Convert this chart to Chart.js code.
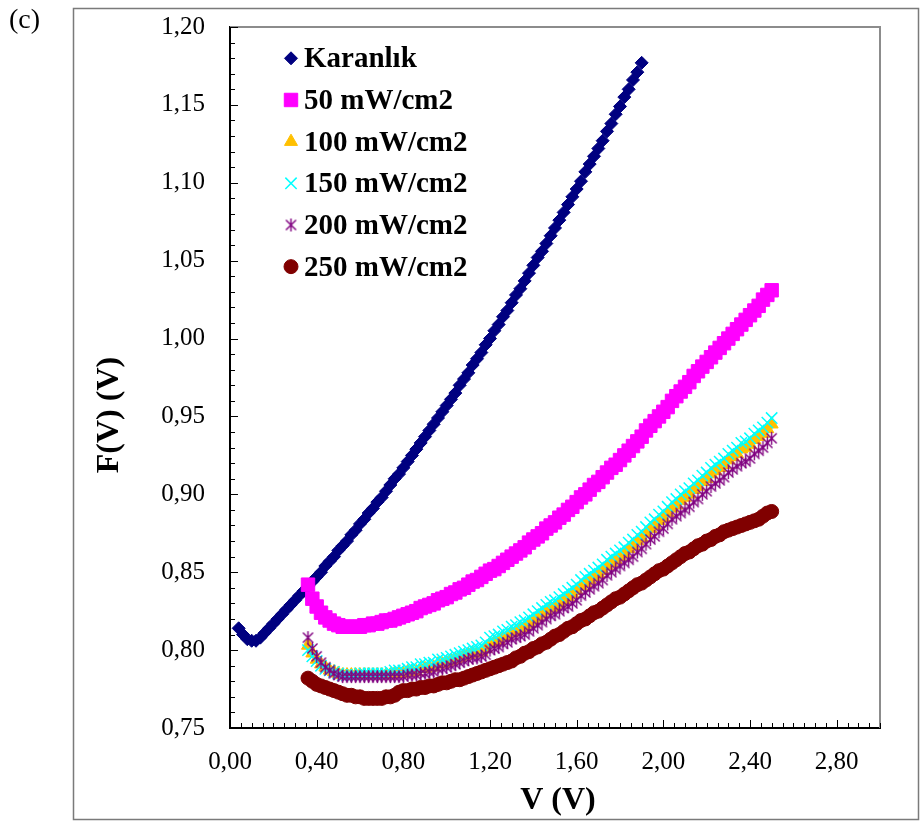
<!DOCTYPE html>
<html>
<head>
<meta charset="utf-8">
<script src="https://cdn.jsdelivr.net/npm/chart.js@4.4.1/dist/chart.umd.min.js"></script>
<style>
  html, body { margin: 0; padding: 0; background: #fff; }
  #wrap { position: relative; width: 921px; height: 823px; overflow: hidden; }
  #c { position: absolute; left: 0; top: 0; }
  #tag { position: absolute; left: 9px; top: 5px; font: 28px/28px "Liberation Serif", "Times New Roman", serif; color: #000; }
</style>
</head>
<body>
<div id="wrap">
  <canvas id="c" width="921" height="823"></canvas>
  <div id="tag">(c)</div>
</div>
<script>
// Bias voltage (V) for the dark measurement
const vDark = [0.04,0.06,0.08,0.10,0.12,0.14,0.16,0.18,0.20,0.22,0.24,0.26,0.28,0.30,0.32,0.34,0.36,
  0.38,0.40,0.42,0.44,0.46,0.48,0.50,0.52,0.54,0.56,0.58,0.60,0.62,0.64,0.66,0.68,0.70,0.72,0.74,0.76,0.78,0.80,
  0.82,0.84,0.86,0.88,0.90,0.92,0.94,0.96,0.98,1.00,1.02,1.04,1.06,1.08,1.10,1.12,1.14,1.16,1.18,1.20,
  1.22,1.24,1.26,1.28,1.30,1.32,1.34,1.36,1.38,1.40,1.42,1.44,1.46,1.48,1.50,1.52,1.54,1.56,1.58,1.60,
  1.62,1.64,1.66,1.68,1.70,1.72,1.74,1.76,1.78,1.80,1.82,1.84,1.86,1.88,1.90];

// F(V) in the dark
const fDark = [0.814,0.810,0.807,0.806,0.806,0.808,0.811,0.814,0.817,0.820,0.823,0.826,0.829,0.832,0.835,0.838,0.841,
  0.844,0.847,0.850,0.854,0.857,0.860,0.864,0.867,0.870,0.874,0.877,0.881,0.884,0.888,0.891,0.895,0.898,0.902,0.906,0.910,0.913,0.917,
  0.921,0.925,0.929,0.933,0.937,0.941,0.945,0.949,0.953,0.957,0.961,0.965,0.970,0.974,0.978,0.983,0.987,0.991,0.996,1.000,
  1.005,1.009,1.014,1.018,1.023,1.028,1.032,1.037,1.042,1.047,1.052,1.056,1.061,1.066,1.071,1.076,1.081,1.086,1.091,1.096,
  1.101,1.107,1.112,1.117,1.122,1.127,1.133,1.138,1.144,1.149,1.155,1.160,1.166,1.171,1.177];

// Bias voltage (V) for the illuminated measurements
const vLight = [0.36,0.38,0.40,0.42,0.44,0.46,0.48,0.50,0.52,0.54,
  0.56,0.58,0.60,0.62,0.64,0.66,0.68,0.70,0.72,0.74,
  0.76,0.78,0.80,0.82,0.84,0.86,0.88,0.90,0.92,0.94,
  0.96,0.98,1.00,1.02,1.04,1.06,1.08,1.10,1.12,1.14,
  1.16,1.18,1.20,1.22,1.24,1.26,1.28,1.30,1.32,1.34,
  1.36,1.38,1.40,1.42,1.44,1.46,1.48,1.50,1.52,1.54,
  1.56,1.58,1.60,1.62,1.64,1.66,1.68,1.70,1.72,1.74,
  1.76,1.78,1.80,1.82,1.84,1.86,1.88,1.90,1.92,1.94,
  1.96,1.98,2.00,2.02,2.04,2.06,2.08,2.10,2.12,2.14,
  2.16,2.18,2.20,2.22,2.24,2.26,2.28,2.30,2.32,2.34,
  2.36,2.38,2.40,2.42,2.44,2.46,2.48,2.50];

const f50 = [0.842,0.833,0.828,0.824,0.821,0.819,0.817,0.816,0.815,0.815,
  0.815,0.815,0.815,0.816,0.816,0.817,0.817,0.818,0.819,0.819,
  0.820,0.821,0.822,0.823,0.824,0.825,0.827,0.828,0.829,0.830,
  0.832,0.833,0.834,0.836,0.837,0.839,0.840,0.842,0.844,0.845,
  0.847,0.849,0.851,0.852,0.854,0.856,0.858,0.860,0.862,0.864,
  0.866,0.869,0.871,0.873,0.875,0.878,0.880,0.882,0.885,0.887,
  0.890,0.892,0.895,0.898,0.900,0.903,0.906,0.908,0.911,0.914,
  0.917,0.919,0.922,0.925,0.928,0.931,0.934,0.937,0.941,0.944,
  0.947,0.950,0.953,0.956,0.960,0.963,0.966,0.969,0.972,0.976,
  0.979,0.982,0.985,0.988,0.991,0.994,0.997,1.000,1.003,1.006,
  1.009,1.012,1.015,1.018,1.021,1.025,1.028,1.031];

const f100 = [0.803,0.798,0.794,0.791,0.789,0.787,0.786,0.785,0.784,0.784,
  0.784,0.784,0.784,0.784,0.784,0.784,0.784,0.784,0.784,0.784,
  0.785,0.785,0.785,0.786,0.786,0.786,0.788,0.788,0.789,0.789,
  0.791,0.791,0.792,0.793,0.794,0.795,0.796,0.797,0.798,0.798,
  0.799,0.801,0.804,0.805,0.806,0.808,0.809,0.811,0.812,0.814,
  0.815,0.817,0.819,0.821,0.823,0.825,0.827,0.828,0.830,0.832,
  0.834,0.836,0.838,0.841,0.843,0.845,0.847,0.849,0.851,0.854,
  0.856,0.858,0.860,0.862,0.865,0.867,0.870,0.872,0.875,0.878,
  0.880,0.883,0.885,0.888,0.891,0.893,0.896,0.898,0.900,0.903,
  0.905,0.908,0.910,0.913,0.915,0.917,0.919,0.922,0.924,0.926,
  0.929,0.930,0.932,0.935,0.937,0.939,0.942,0.945];

const f150 = [0.800,0.796,0.793,0.790,0.788,0.787,0.786,0.785,0.784,0.784,
  0.784,0.784,0.785,0.785,0.785,0.785,0.785,0.785,0.785,0.786,
  0.787,0.787,0.787,0.788,0.789,0.789,0.791,0.791,0.792,0.792,
  0.794,0.794,0.795,0.796,0.797,0.798,0.799,0.800,0.801,0.802,
  0.803,0.805,0.808,0.809,0.810,0.812,0.813,0.815,0.816,0.818,
  0.819,0.821,0.823,0.825,0.827,0.829,0.831,0.832,0.834,0.836,
  0.838,0.840,0.842,0.845,0.847,0.849,0.851,0.853,0.855,0.858,
  0.860,0.862,0.864,0.866,0.869,0.871,0.874,0.876,0.879,0.882,
  0.884,0.887,0.889,0.892,0.895,0.897,0.900,0.902,0.904,0.907,
  0.909,0.912,0.914,0.917,0.919,0.921,0.923,0.926,0.928,0.930,
  0.933,0.934,0.936,0.939,0.941,0.943,0.946,0.949];

const f200 = [0.808,0.801,0.796,0.792,0.789,0.787,0.785,0.784,0.783,0.783,
  0.783,0.783,0.783,0.783,0.783,0.783,0.783,0.783,0.783,0.783,
  0.783,0.783,0.783,0.784,0.784,0.784,0.785,0.785,0.786,0.786,
  0.788,0.788,0.789,0.790,0.791,0.792,0.793,0.794,0.795,0.795,
  0.796,0.797,0.800,0.801,0.802,0.804,0.805,0.807,0.808,0.809,
  0.810,0.812,0.814,0.816,0.818,0.820,0.822,0.823,0.825,0.827,
  0.828,0.830,0.832,0.835,0.837,0.839,0.841,0.843,0.845,0.848,
  0.850,0.852,0.854,0.856,0.858,0.860,0.863,0.865,0.868,0.871,
  0.873,0.876,0.878,0.881,0.884,0.886,0.888,0.890,0.892,0.895,
  0.897,0.900,0.902,0.905,0.907,0.909,0.911,0.914,0.916,0.918,
  0.920,0.921,0.923,0.926,0.928,0.930,0.933,0.936];

const f250 = [0.782,0.780,0.778,0.777,0.776,0.775,0.774,0.773,0.772,0.771,
  0.771,0.770,0.770,0.769,0.769,0.769,0.769,0.769,0.770,0.770,
  0.771,0.773,0.774,0.774,0.775,0.775,0.776,0.776,0.777,0.777,
  0.778,0.779,0.779,0.780,0.781,0.781,0.782,0.783,0.784,0.785,
  0.786,0.787,0.788,0.789,0.790,0.791,0.792,0.793,0.795,0.796,
  0.798,0.799,0.801,0.802,0.804,0.805,0.807,0.809,0.810,0.812,
  0.814,0.815,0.817,0.819,0.820,0.822,0.824,0.825,0.827,0.829,
  0.831,0.833,0.834,0.836,0.838,0.840,0.842,0.843,0.845,0.847,
  0.849,0.851,0.852,0.854,0.856,0.858,0.860,0.862,0.863,0.865,
  0.867,0.868,0.870,0.871,0.873,0.874,0.876,0.877,0.878,0.879,
  0.880,0.881,0.882,0.883,0.884,0.886,0.888,0.889];

const seriesNames = ['Karanlık', '50 mW/cm2', '100 mW/cm2', '150 mW/cm2', '200 mW/cm2', '250 mW/cm2'];
const xTicks = [0.00, 0.40, 0.80, 1.20, 1.60, 2.00, 2.40, 2.80];
const yTicks = [0.75, 0.80, 0.85, 0.90, 0.95, 1.00, 1.05, 1.10, 1.15, 1.20];
const xTitle = 'V (V)';
const yTitle = 'F(V) (V)';

const SERIF = '"Liberation Serif", "Times New Roman", serif';

// asterisk marker: an X crossed by a vertical bar
function asteriskMarker(color, size) {
  const c = document.createElement('canvas');
  c.width = size; c.height = size;
  const g = c.getContext('2d');
  g.strokeStyle = color;
  g.lineWidth = 1.4;
  const m = size / 2, r = size / 2 - 1, d = r * 0.78;
  g.beginPath();
  g.moveTo(m - d, m - d); g.lineTo(m + d, m + d);
  g.moveTo(m + d, m - d); g.lineTo(m - d, m + d);
  g.moveTo(m, m - r); g.lineTo(m, m + r);
  g.stroke();
  return c;
}

const pts = (xs, ys) => xs.map((x, i) => ({ x: x, y: ys[i] }));
const fmt = v => v.toFixed(2).replace('.', ',');

const datasets = [
  { label: seriesNames[0], data: pts(vDark, fDark), pointStyle: 'rectRot', pointRadius: 6.5,
    pointBackgroundColor: '#000080', pointBorderColor: '#000080', pointBorderWidth: 1, order: 5 },
  { label: seriesNames[1], data: pts(vLight, f50), pointStyle: 'rect', pointRadius: 9.5,
    pointBackgroundColor: '#FF00FF', pointBorderColor: '#FF00FF', pointBorderWidth: 1, order: 4 },
  { label: seriesNames[2], data: pts(vLight, f100), pointStyle: 'triangle', pointRadius: 7.5,
    pointBackgroundColor: '#FFC000', pointBorderColor: '#FFC000', pointBorderWidth: 1, order: 3 },
  { label: seriesNames[3], data: pts(vLight, f150), pointStyle: 'crossRot', pointRadius: 8,
    pointBackgroundColor: '#00FFFF', pointBorderColor: '#00FFFF', pointBorderWidth: 1.5, order: 2 },
  { label: seriesNames[4], data: pts(vLight, f200), pointStyle: asteriskMarker('#800080', 15), pointRadius: 7,
    pointBackgroundColor: '#800080', pointBorderColor: '#800080', pointBorderWidth: 1.4, order: 1 },
  { label: seriesNames[5], data: pts(vLight, f250), pointStyle: 'circle', pointRadius: 7,
    pointBackgroundColor: '#800000', pointBorderColor: '#800000', pointBorderWidth: 1, order: 0 }
];
datasets.forEach(d => { d.showLine = false; d.pointHoverRadius = d.pointRadius; });

// page frame, plot border, inward tick marks, axis titles and in-plot legend
const decor = {
  id: 'decor',
  beforeDraw(chart) {
    const ctx = chart.ctx;
    ctx.save();
    ctx.fillStyle = '#fff';
    ctx.fillRect(0, 0, chart.width, chart.height);
    ctx.strokeStyle = '#7a7a7a';
    ctx.lineWidth = 1.5;
    ctx.strokeRect(73.5, 8.5, 845, 811);
    ctx.restore();
  },
  afterDraw(chart) {
    const ctx = chart.ctx, a = chart.chartArea;
    const xs = chart.scales.x, ys = chart.scales.y;
    ctx.save();
    // top and right edges of the plot area
    ctx.strokeStyle = '#8c8c8c';
    ctx.lineWidth = 2;
    ctx.beginPath();
    ctx.moveTo(a.left, a.top); ctx.lineTo(a.right, a.top); ctx.lineTo(a.right, a.bottom);
    ctx.stroke();
    // tick marks pointing into the plot
    ctx.strokeStyle = '#000';
    ctx.lineWidth = 1;
    ctx.beginPath();
    for (let k = 0; k <= 60; k++) {
      const px = Math.round(xs.getPixelForValue(k * 0.05)) + 0.5;
      const len = (k % 8 === 0) ? 8 : 5;
      ctx.moveTo(px, a.bottom); ctx.lineTo(px, a.bottom - len);
    }
    for (let k = 0; k <= 45; k++) {
      const py = Math.round(ys.getPixelForValue(0.75 + k * 0.01)) + 0.5;
      const len = (k % 5 === 0) ? 8 : 5;
      ctx.moveTo(a.left, py); ctx.lineTo(a.left + len, py);
    }
    ctx.stroke();
    // axis titles
    ctx.fillStyle = '#000';
    ctx.font = 'bold 32px ' + SERIF;
    ctx.textAlign = 'center';
    ctx.textBaseline = 'alphabetic';
    ctx.fillText(xTitle, 558, 809);
    ctx.translate(118, 415);
    ctx.rotate(-Math.PI / 2);
    ctx.fillText(yTitle, 0, 0);
    ctx.restore();

    // legend inside the plot
    ctx.save();
    ctx.font = 'bold 29px ' + SERIF;
    ctx.textAlign = 'left';
    ctx.textBaseline = 'alphabetic';
    chart.data.datasets.forEach((d, i) => {
      const y = 58.3 + i * 41.67;
      ctx.fillStyle = d.pointBackgroundColor;
      ctx.strokeStyle = d.pointBorderColor;
      ctx.lineWidth = d.pointBorderWidth;
      Chart.helpers.drawPoint(ctx, {
        pointStyle: d.pointStyle, radius: d.pointRadius, rotation: 0, borderWidth: d.pointBorderWidth
      }, 291, y);
      ctx.fillStyle = '#000';
      ctx.fillText(d.label, 304, y + 9);
    });
    ctx.restore();
  }
};

new Chart(document.getElementById('c'), {
  type: 'scatter',
  data: { datasets: datasets },
  options: {
    responsive: false,
    animation: false,
    devicePixelRatio: 1,
    events: [],
    layout: { padding: { left: 0, top: 27, right: 41, bottom: 0 } },
    plugins: { legend: { display: false }, tooltip: { enabled: false } },
    scales: {
      x: {
        type: 'linear', min: 0, max: 3.0,
        afterBuildTicks: s => { s.ticks = xTicks.map(v => ({ value: v })); },
        afterFit: s => { s.height = 95; s.paddingLeft = 0; s.paddingRight = 0; },
        grid: { display: false, drawTicks: false },
        border: { display: true, color: '#000', width: 2 },
        ticks: { callback: v => fmt(v), color: '#000', padding: 19, maxRotation: 0,
                 font: { family: SERIF, size: 25 } }
      },
      y: {
        type: 'linear', min: 0.75, max: 1.20,
        afterBuildTicks: s => { s.ticks = yTicks.map(v => ({ value: v })); },
        afterFit: s => { s.width = 230; s.paddingTop = 0; s.paddingBottom = 0; },
        grid: { display: false, drawTicks: false },
        border: { display: true, color: '#000', width: 2 },
        ticks: { callback: v => fmt(v), color: '#000', padding: 25,
                 font: { family: SERIF, size: 25 } }
      }
    }
  },
  plugins: [decor]
});
</script>
</body>
</html>
